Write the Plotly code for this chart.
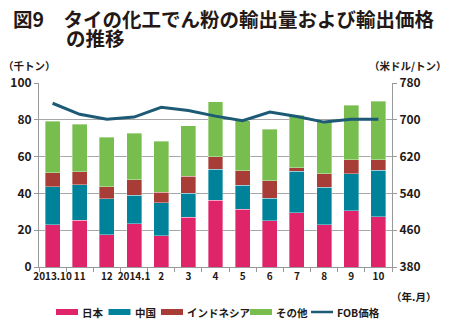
import plotly.graph_objects as go

months = ["2013.10", "11", "12", "2014.1", "2", "3", "4", "5", "6", "7", "8", "9", "10"]
japan = [23.1, 25.5, 17.6, 23.6, 17.1, 27.1, 36.4, 31.5, 25.1, 29.6, 23.1, 30.5, 27.3]
china = [20.4, 19.2, 19.5, 15.3, 17.8, 12.9, 16.7, 12.9, 12.2, 22.4, 20.2, 20.2, 25.2]
indonesia = [7.8, 7.1, 6.5, 8.6, 5.8, 9.3, 6.9, 8.0, 9.6, 2.0, 7.4, 7.7, 5.7]
others = [27.8, 25.7, 26.8, 25.2, 27.7, 27.4, 29.8, 27.1, 28.0, 28.4, 28.4, 29.4, 32.0]
fob = [736, 712, 701, 706, 727, 720, 708, 698, 717, 707, 695, 701, 701]

series = [
    ("日本", japan, "#DF246A"),
    ("中国", china, "#00829A"),
    ("インドネシア", indonesia, "#A83D37"),
    ("その他", others, "#77BE4F"),
]
line_name = "FOB価格"
line_color = "#1D5A75"
FONT = "Noto Sans CJK JP"
TXT = "#231815"

# plot-area geometry (px) used to place paper-referenced decorations
L, R, T, B = 39, 392, 83, 267
W, H = R - L, B - T


def px(x):
    return (x - L) / W


def py(y):
    return (B - y) / H


fig = go.Figure()
for name, vals, col in series:
    fig.add_trace(go.Bar(
        x=months, y=vals, name=name,
        marker=dict(color=col, line=dict(color="rgba(255,255,255,0.6)", width=0.6)),
    ))
fig.add_trace(go.Scatter(
    x=months, y=fob, name=line_name, mode="lines", yaxis="y2",
    line=dict(color=line_color, width=3),
))

fig.update_layout(
    width=450, height=324,
    margin=dict(l=L, r=450 - R, t=T, b=324 - B),
    paper_bgcolor="white", plot_bgcolor="white",
    barmode="stack", bargap=0.45,
    font=dict(family=FONT, size=11, color=TXT),
    showlegend=False,
    xaxis=dict(
        type="category", tickson="boundaries", ticks="outside", ticklen=4,
        tickcolor="#999999", showline=True, linecolor="#999999", linewidth=1,
        showgrid=False, tickfont=dict(size=10, family=FONT, color=TXT),
        ticktext=["<b>%s</b>" % m for m in months], tickvals=months,
        tickangle=0, automargin=False,
    ),
    yaxis=dict(
        range=[0, 100], tickvals=[0, 20, 40, 60, 80, 100],
        ticktext=["<b>%d</b>" % v for v in [0, 20, 40, 60, 80, 100]],
        showgrid=True, gridcolor="#A6A6A6", gridwidth=1,
        showline=True, linecolor="#999999", ticks="outside", ticklen=4, tickcolor="#999999",
        zeroline=False, tickfont=dict(size=12, family=FONT, color=TXT), automargin=False,
    ),
    yaxis2=dict(
        range=[380, 780], tickvals=[380, 460, 540, 620, 700, 780],
        ticktext=["<b>%d</b>" % v for v in [380, 460, 540, 620, 700, 780]],
        overlaying="y", side="right", showgrid=False,
        showline=True, linecolor="#999999", ticks="outside", ticklen=4, tickcolor="#999999",
        zeroline=False, tickfont=dict(size=12, family=FONT, color=TXT), automargin=False,
    ),
)

ann = [
    dict(text="<b>図9　タイの化工でん粉の輸出量および輸出価格</b>", x=11, y=18, size=19.5, anchor="left"),
    dict(text="<b>の推移</b>", x=64, y=37, size=19.5, anchor="left"),
    dict(text="<b>（千トン）</b>", x=1, y=66, size=10.5, anchor="left"),
    dict(text="<b>（米ドル/トン）</b>", x=449, y=66, size=10.5, anchor="right"),
    dict(text="<b>（年.月）</b>", x=438, y=296, size=10.5, anchor="right"),
]
for a in ann:
    fig.add_annotation(text=a["text"], xref="paper", yref="paper",
                       x=px(a["x"]), y=py(a["y"]),
                       xanchor=a["anchor"], yanchor="middle", showarrow=False,
                       font=dict(size=a["size"], family=FONT, color=TXT))

# legend (drawn manually to match the compact original layout)
legend_items = [(n, c, "box") for n, _, c in series] + [(line_name, line_color, "line")]
legend_x = [56, 108.5, 161, 250, 311]
sw = 22
ly = 312
for (name, col, kind), x0 in zip(legend_items, legend_x):
    if kind == "box":
        fig.add_shape(type="rect", xref="paper", yref="paper",
                      x0=px(x0), x1=px(x0 + sw), y0=py(ly + 3), y1=py(ly - 3),
                      fillcolor=col, line=dict(width=0))
    else:
        fig.add_shape(type="line", xref="paper", yref="paper",
                      x0=px(x0), x1=px(x0 + sw), y0=py(ly), y1=py(ly),
                      line=dict(color=col, width=2.5))
    fig.add_annotation(text="<b>%s</b>" % name, xref="paper", yref="paper",
                       x=px(x0 + sw + 2), y=py(ly), xanchor="left", yanchor="middle",
                       showarrow=False, font=dict(size=10.5, family=FONT, color=TXT))

fig.write_html("out.html")
